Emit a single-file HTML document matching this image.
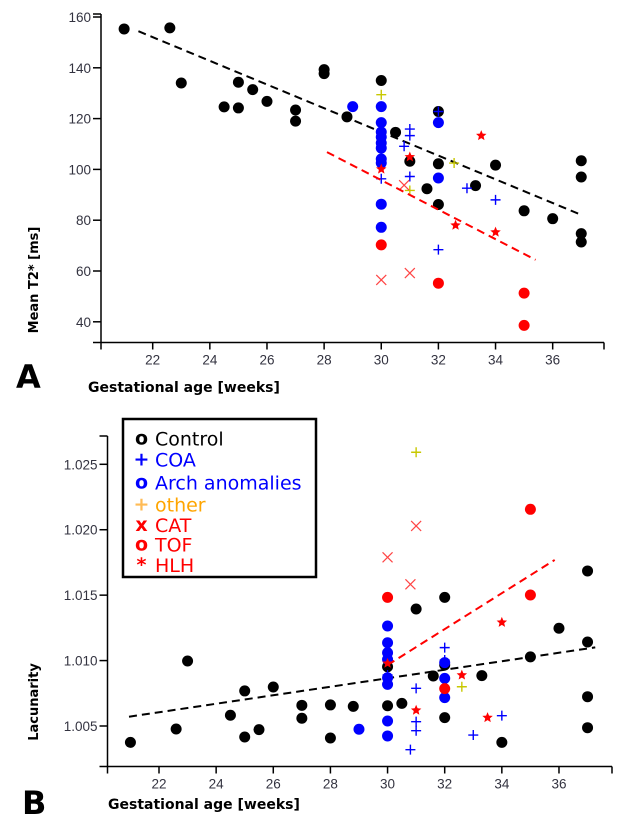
<!DOCTYPE html>
<html><head><meta charset="utf-8">
<style>
html,body{margin:0;padding:0;background:#fff;}
svg{display:block;}
.tick{font-family:"Liberation Sans",sans-serif;font-size:13.5px;fill:#333340;}
.ttl{font-family:"DejaVu Sans",sans-serif;font-size:13px;font-weight:bold;fill:#000;}
.lg{font-family:"DejaVu Sans",sans-serif;font-size:19px;}
</style></head><body>
<svg id="chart" width="636" height="827" viewBox="0 0 636 827" xmlns="http://www.w3.org/2000/svg">
<g id="panelA"></g>
<g id="panelB"></g>
</svg>
<script>
// ---------- Panel A data (weeks, mean T2* ms) ----------
const xTicks = [22,24,26,28,30,32,34,36];
const aYTicks = [40,60,80,100,120,140,160];
const aYTickLabels = ["40","60","80","100","120","140","160"];
const aControlW = [21,22.6,23,24.5,25,25,25.5,26,27,27,28,28,28.8,30,30.5,31,32,32,32,31.6,33.3,34,35,36,37,37,37,37];
const aControlV = [155.3,155.7,134,124.6,134.3,124.2,131.4,126.8,123.4,119,139.3,137.7,120.7,135,114.6,103.2,122.8,102.2,86.2,92.4,93.6,101.7,83.7,80.6,103.4,97,74.7,71.4];
const aArchW = [29,30,30,30,30,30,30,30,30,30,30,32,32];
const aArchV = [124.7,124.7,118.4,114.7,112.7,110.4,108.4,104.1,102.5,86.3,77.2,118.4,96.6];
const aCoaW = [30,31,31,30.8,31,32,33,34,32];
const aCoaV = [96.3,115.9,113.3,109.1,97.2,122.8,92.6,88,68.4];
const aOtherW = [30,31,32.55];
const aOtherV = [129.4,91.7,102.5];
const aCatW = [30.8,30,31];
const aCatV = [93.8,56.5,59.2];
const aTofW = [30,32,35,35];
const aTofV = [70.3,55.2,51.3,38.6];
const aHlhW = [30,31,33.5,32.6,34];
const aHlhV = [100.1,104.9,113.3,78,75.3];
const aFitControlW = [21.5,37];
const aFitControlV = [154.4,82.1];
const aFitRedW = [28.1,35.4];
const aFitRedV = [106.8,64.4];

// ---------- Panel B data (weeks, lacunarity) ----------
const bYTicks = [1.005,1.010,1.015,1.020,1.025];
const bYTickLabels = ["1.005","1.010","1.015","1.020","1.025"];
const bControlW = [21,22.6,23,24.5,25,25,25.5,26,27,27,28,28,28.8,30,30,30.5,31,31.6,32,32,32,33.3,34,35,36,37,37,37,37];
const bControlV = [1.00375,1.00477,1.00997,1.00582,1.00768,1.00416,1.00472,1.00798,1.00658,1.00559,1.00661,1.00408,1.0065,1.00655,1.00953,1.00673,1.01394,1.00882,1.01483,1.00966,1.00564,1.00885,1.00375,1.01028,1.01247,1.01685,1.01142,1.00724,1.00487];
const bArchW = [29,30,30,30,30,30,30,30,30,32,32,32];
const bArchV = [1.00475,1.01264,1.01136,1.0106,1.01009,1.00869,1.00818,1.00538,1.00424,1.00984,1.00864,1.00717];
const bCoaW = [32,32,31,31,31,30.8,33,34,30];
const bCoaV = [1.01099,1.01004,1.00788,1.00533,1.00464,1.00319,1.00431,1.00579,1.0089];
const bOtherW = [31,32.6];
const bOtherV = [1.02592,1.008];
const bCatW = [30,31,30.8];
const bCatV = [1.01789,1.02029,1.01583];
const bTofW = [30,32,35,35];
const bTofV = [1.01483,1.00786,1.02156,1.01501];
const bHlhW = [30,31,32.6,33.5,34];
const bHlhV = [1.00979,1.0062,1.00889,1.00564,1.01292];
const bFitControlW = [20.95,37.27];
const bFitControlV = [1.00571,1.01101];
const bFitRedW = [30,35.85];
const bFitRedV = [1.00966,1.01769];

const NS = "http://www.w3.org/2000/svg";
function mk(parent, tag, attrs){
  const e = document.createElementNS(NS, tag);
  for (const k in attrs) e.setAttribute(k, attrs[k]);
  parent.appendChild(e);
  return e;
}
function star(cx, cy, r){
  let p = [];
  for (let i=0;i<10;i++){
    const a = -Math.PI/2 + i*Math.PI/5;
    const rr = i%2===0 ? r : r*0.45;
    p.push((cx+rr*Math.cos(a)).toFixed(2)+","+(cy+rr*Math.sin(a)).toFixed(2));
  }
  return p.join(" ");
}
function drawMarkers(g, ws, vs, xf, yf, kind, color, name){
  for (let i=0;i<ws.length;i++){
    const x = xf(ws[i]), y = yf(vs[i]);
    let e;
    if (kind==="dot"){
      e = mk(g,"circle",{cx:x,cy:y,r:5.5,fill:color});
    } else if (kind==="plus"){
      e = mk(g,"path",{d:`M${x-5} ${y}H${x+5}M${x} ${y-5}V${y+5}`,stroke:color,"stroke-width":1.4,fill:"none"});
    } else if (kind==="x"){
      e = mk(g,"path",{d:`M${x-5} ${y-5}L${x+5} ${y+5}M${x-5} ${y+5}L${x+5} ${y-5}`,stroke:color,"stroke-width":1.2,fill:"none"});
    } else {
      e = mk(g,"polygon",{points:star(x,y,5.5),fill:color});
    }
    
    
  }
}
function drawPanel(g, cfg){
  const xf = w => cfg.x22 + (w-22)*28.57;
  const yf = cfg.yf;
  let ax = mk(g,"line",{x1:cfg.xl-8,y1:cfg.yb,x2:cfg.xr,y2:cfg.yb,stroke:"#000","stroke-width":1.5});
  
  
  let ay = mk(g,"line",{x1:cfg.xl,y1:cfg.yt,x2:cfg.xl,y2:cfg.yb+7,stroke:"#000","stroke-width":1.5});
  
  
  mk(g,"line",{x1:cfg.xl-8,y1:cfg.yt,x2:cfg.xl,y2:cfg.yt,stroke:"#000","stroke-width":1.5});
  mk(g,"line",{x1:cfg.xr,y1:cfg.yb,x2:cfg.xr,y2:cfg.yb+7,stroke:"#000","stroke-width":1.5});
  xTicks.forEach(t=>{
    const x = xf(t);
    mk(g,"line",{x1:x,y1:cfg.yb,x2:x,y2:cfg.yb+7,stroke:"#000","stroke-width":1.5});
    const tx = mk(g,"text",{x:x,y:cfg.yb+22,"text-anchor":"middle",class:"tick"});
    tx.textContent = t;
    
    
  });
  cfg.yTicks.forEach((t,i)=>{
    const y = yf(t);
    mk(g,"line",{x1:cfg.xl-8,y1:y,x2:cfg.xl,y2:y,stroke:"#000","stroke-width":1.5});
    const ty = mk(g,"text",{x:cfg.xl-10,y:y+5,"text-anchor":"end",class:"tick"});
    ty.textContent = cfg.yLabels[i];
    
    
  });
  const l1 = mk(g,"line",{x1:xf(cfg.fcw[0]),y1:yf(cfg.fcv[0]),x2:xf(cfg.fcw[1]),y2:yf(cfg.fcv[1]),stroke:"#000","stroke-width":2,"stroke-dasharray":"8,5"});
  
  
  drawMarkers(g, cfg.ctrl[0], cfg.ctrl[1], xf, yf, "dot", "#000", "control-point");
  drawMarkers(g, cfg.arch[0], cfg.arch[1], xf, yf, "dot", "#0000ff", "arch-anomaly-point");
  drawMarkers(g, cfg.coa[0], cfg.coa[1], xf, yf, "plus", "#0000ff", "coa-point");
  drawMarkers(g, cfg.oth[0], cfg.oth[1], xf, yf, "plus", "#c8c800", "other-point");
  drawMarkers(g, cfg.cat[0], cfg.cat[1], xf, yf, "x", "#ff4444", "cat-point");
  drawMarkers(g, cfg.tof[0], cfg.tof[1], xf, yf, "dot", "#ff0000", "tof-point");
  drawMarkers(g, cfg.hlh[0], cfg.hlh[1], xf, yf, "star", "#ff0000", "hlh-point");
  const l2 = mk(g,"line",{x1:xf(cfg.frw[0]),y1:yf(cfg.frv[0]),x2:xf(cfg.frw[1]),y2:yf(cfg.frv[1]),stroke:"#ff0000","stroke-width":2,"stroke-dasharray":"8,5"});
  
  
  const xt = mk(g,"text",{x:cfg.xtx,y:cfg.xty,class:"ttl",style:"font-size:14px"});
  xt.textContent = "Gestational age [weeks]";
  
  
  const yt = mk(g,"text",{x:0,y:0,class:"ttl","text-anchor":"middle",transform:`translate(38,${cfg.ytc}) rotate(-90)`});
  yt.textContent = cfg.ytitle;
  
  
  const pl = mk(g,"text",{x:cfg.plx,y:cfg.ply,"font-family":"DejaVu Sans, sans-serif","font-weight":"bold","font-size":"32"});
  pl.textContent = cfg.plabel;
  
  
}
drawPanel(document.getElementById("panelA"), {
  x22:152.7, xl:101, xr:604, yb:342.5, yt:14,
  yf: v => 17 + (160-v)*2.54,
  yTicks:aYTicks, yLabels:aYTickLabels,
  ctrl:[aControlW,aControlV], arch:[aArchW,aArchV], coa:[aCoaW,aCoaV], oth:[aOtherW,aOtherV],
  cat:[aCatW,aCatV], tof:[aTofW,aTofV], hlh:[aHlhW,aHlhV],
  fcw:aFitControlW, fcv:aFitControlV, frw:aFitRedW, frv:aFitRedV,
  xtx:88, xty:392, ytitle:"Mean T2* [ms]", ytc:280, plabel:"A", plx:16, ply:388
});
drawPanel(document.getElementById("panelB"), {
  x22:159, xl:107.5, xr:612, yb:766.5, yt:436,
  yf: v => 464.3 + (1.025-v)*13085,
  yTicks:bYTicks, yLabels:bYTickLabels,
  ctrl:[bControlW,bControlV], arch:[bArchW,bArchV], coa:[bCoaW,bCoaV], oth:[bOtherW,bOtherV],
  cat:[bCatW,bCatV], tof:[bTofW,bTofV], hlh:[bHlhW,bHlhV],
  fcw:bFitControlW, fcv:bFitControlV, frw:bFitRedW, frv:bFitRedV,
  xtx:108, xty:809, ytitle:"Lacunarity", ytc:702, plabel:"B", plx:22, ply:814
});

const legendNames = ["Control","COA","Arch anomalies","other","CAT","TOF","HLH"];
const legendSymbols = ["o","+","o","+","x","o","*"];
const legendColors = ["#000","#0000ff","#0000ff","#ffa500","#ff0000","#ff0000","#ff0000"];
const legendSymColors = ["#000","#0000ff","#0000ff","#ffbb55","#ff0000","#ff0000","#ff0000"];
const legendY = [438.3,459.3,482.7,504.3,525,544.3,565];
const pb = document.getElementById("panelB");
const lg = mk(pb,"g",{});


const box = mk(lg,"rect",{x:123,y:419,width:193,height:158,fill:"#fff",stroke:"#000","stroke-width":2.5});


legendNames.forEach((n,i)=>{
  const s = mk(lg,"text",{x:141.5,y:legendY[i]+6,"text-anchor":"middle",class:"lg",fill:legendSymColors[i],"font-weight":"bold"});
  s.textContent = legendSymbols[i];
  
  
  const t = mk(lg,"text",{x:155,y:legendY[i]+7,class:"lg",fill:legendColors[i]});
  t.textContent = n;
  
  
});
</script>
</body></html>
